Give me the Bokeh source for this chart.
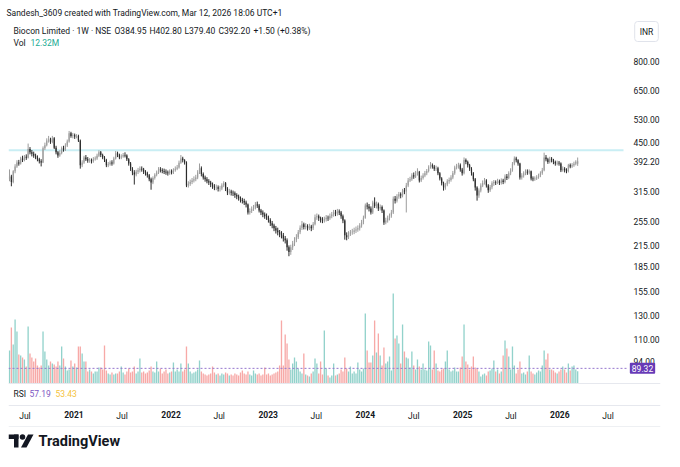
import math
import pandas as pd
from bokeh.plotting import figure
from bokeh.models import (Range1d, LinearScale, LinearAxis, FixedTicker, NumeralTickFormatter,
                          ColumnDataSource, Label, Span)
from bokeh.embed import file_html
from bokeh.resources import INLINE
from bokeh.core.properties import value

# ---------------- data ----------------
snapshot_title = "Sandesh_3609 created with TradingView.com, Mar 12, 2026 18:06 UTC+1"
symbol_name = "Biocon Limited · 1W · NSE"
ohlc_header = ["O384.95", "H402.80", "L379.40", "C392.20", "+1.50 (+0.38%)"]
vol_header = "12.32M"
rsi_values = ["57.19", "53.43"]
currency = "INR"
brand = "TradingView"

start_week = "2020-05-04"
first_open = 345.0
last_open = 384.95

closes = [
    352, 338, 365, 378, 389, 386, 400, 396, 405, 402,
    428, 418, 414, 408, 403, 398, 392, 389, 430, 440,
    455, 458, 450, 462, 432, 418, 409, 416, 430, 426,
    439, 452, 479, 470, 472, 468, 470, 455, 381, 389,
    403, 398, 394, 395, 392, 398, 400, 408, 418, 410,
    403, 396, 381, 384, 389, 386, 400, 415, 410, 403,
    406, 410, 409, 398, 386, 372, 362, 357, 364, 368,
    372, 370, 364, 360, 355, 345, 337, 348, 356, 362,
    370, 368, 366, 364, 362, 360, 365, 362, 368, 372,
    375, 388, 400, 395, 389, 330, 334, 338, 342, 345,
    349, 362, 373, 358, 349, 345, 340, 337, 332, 328,
    325, 326, 322, 323, 330, 335, 322, 314, 316, 313,
    312, 308, 305, 301, 298, 295, 292, 288, 272, 275,
    279, 282, 288, 286, 276, 272, 268, 265, 263, 258,
    252, 248, 243, 239, 236, 233, 231, 226, 223, 212,
    205, 212, 218, 224, 228, 236, 244, 250, 245, 247,
    243, 246, 243, 250, 263, 265, 261, 258, 257, 259,
    262, 261, 265, 268, 272, 270, 274, 272, 265, 257,
    231, 228, 234, 236, 237, 239, 241, 243, 248, 254,
    262, 286, 284, 280, 272, 292, 285, 289, 280, 283,
    276, 253, 257, 261, 266, 272, 300, 296, 305, 310,
    307, 318, 316, 330, 342, 345, 355, 352, 360, 364,
    342, 348, 354, 360, 366, 376, 381, 378, 372, 373,
    360, 347, 335, 325, 332, 340, 343, 349, 360, 375,
    378, 381, 370, 360, 396, 390, 381, 372, 360, 345,
    325, 307, 318, 330, 336, 342, 330, 319, 326, 335,
    338, 337, 340, 336, 342, 338, 352, 348, 360, 368,
    385, 400, 395, 386, 349, 354, 360, 364, 362, 365,
    347, 345, 347, 350, 354, 360, 368, 403, 398, 390,
    399, 395, 390, 386, 388, 386, 368, 372, 368, 365,
    381, 378, 381, 385, 390.7, 392.2,
]

highs = [
    370, 356, 368, 384, 395, 396, 405, 408, 410, 412,
    445, 434, 425, 420, 414, 409, 402, 398, 436, 448,
    462, 470, 464, 470, 466, 438, 422, 424, 436, 438,
    446, 458, 487, 484, 480, 478, 476, 474, 458, 395,
    408, 410, 404, 401, 400, 404, 406, 414, 424, 422,
    414, 407, 399, 390, 394, 395, 405, 422, 420, 414,
    412, 416, 418, 412, 401, 390, 376, 368, 369, 374,
    378, 378, 374, 368, 364, 358, 349, 352, 360, 367,
    376, 376, 373, 372, 370, 367, 370, 370, 373, 378,
    382, 394, 410, 405, 398, 392, 340, 344, 348, 352,
    356, 368, 386, 378, 362, 354, 350, 345, 341, 337,
    333, 332, 330, 329, 335, 340, 338, 326, 322, 320,
    318, 316, 312, 309, 305, 302, 300, 296, 290, 280,
    284, 287, 293, 294, 289, 279, 276, 272, 270, 266,
    261, 256, 251, 247, 244, 240, 238, 235, 230, 226,
    215, 216, 222, 228, 233, 240, 248, 256, 253, 252,
    250, 251, 249, 254, 268, 270, 268, 264, 263, 264,
    267, 266, 270, 273, 277, 277, 279, 278, 275, 268,
    259, 236, 238, 240, 242, 244, 246, 248, 252, 258,
    266, 290, 292, 289, 284, 296, 303, 294, 292, 288,
    286, 278, 262, 266, 270, 277, 305, 306, 310, 315,
    314, 322, 324, 336, 348, 351, 360, 362, 366, 373,
    366, 354, 360, 366, 371, 381, 390, 386, 382, 380,
    377, 363, 350, 339, 336, 345, 349, 355, 366, 380,
    385, 388, 386, 374, 403, 400, 394, 385, 376, 363,
    348, 328, 323, 335, 342, 348, 345, 333, 331, 340,
    343, 342, 346, 344, 347, 346, 357, 358, 365, 373,
    390, 406, 405, 398, 388, 360, 365, 370, 370, 370,
    367, 352, 352, 355, 359, 365, 374, 417, 410, 402,
    405, 404, 399, 394, 394, 393, 389, 378, 376, 373,
    385, 386, 387, 391, 395, 402.8,
]

lows = [
    340, 328, 335, 360, 374, 380, 383, 390, 392, 396,
    400, 412, 406, 402, 398, 392, 386, 378, 387, 425,
    436, 448, 444, 446, 428, 412, 402, 405, 412, 420,
    422, 434, 448, 464, 462, 460, 462, 450, 372, 376,
    385, 393, 388, 388, 386, 388, 394, 396, 404, 404,
    398, 390, 376, 376, 380, 380, 383, 397, 404, 398,
    398, 402, 403, 393, 380, 366, 355, 332, 352, 358,
    362, 364, 358, 354, 349, 340, 320, 333, 344, 352,
    358, 362, 360, 358, 356, 354, 356, 357, 358, 364,
    368, 372, 385, 389, 383, 326, 325, 329, 333, 337,
    340, 345, 358, 352, 344, 339, 335, 331, 326, 322,
    319, 319, 316, 316, 319, 326, 317, 308, 309, 307,
    306, 302, 299, 296, 292, 290, 287, 282, 268, 268,
    271, 275, 278, 281, 272, 267, 263, 260, 258, 253,
    247, 243, 238, 234, 231, 228, 226, 221, 218, 207,
    199, 201, 208, 214, 220, 225, 233, 240, 241, 241,
    239, 240, 238, 240, 248, 258, 256, 253, 252, 253,
    255, 256, 258, 261, 264, 265, 266, 267, 260, 252,
    224, 223, 225, 230, 232, 233, 235, 237, 239, 244,
    250, 260, 278, 274, 268, 269, 281, 280, 275, 276,
    271, 249, 250, 253, 257, 262, 269, 290, 292, 300,
    301, 303, 310, 272, 326, 338, 341, 346, 348, 354,
    337, 338, 344, 350, 355, 362, 372, 372, 366, 366,
    355, 342, 330, 318, 320, 328, 334, 339, 345, 356,
    370, 372, 364, 354, 357, 384, 375, 366, 354, 340,
    318, 296, 302, 314, 326, 332, 325, 313, 315, 321,
    329, 331, 333, 331, 332, 333, 335, 343, 345, 355,
    364, 381, 389, 380, 344, 344, 349, 355, 356, 357,
    342, 340, 341, 343, 346, 350, 356, 365, 392, 385,
    386, 389, 384, 380, 381, 380, 363, 364, 362, 360,
    362, 373, 374, 377, 381, 379.4,
]

volumes_m = [
    33, 56, 39, 64, 52, 29, 28, 26, 24, 17,
    57, 30, 26, 22, 25, 18, 16, 18, 52, 32,
    24, 18, 22, 20, 19, 17, 22, 18, 37, 25,
    17, 13, 14, 23, 17, 20, 16, 37, 37, 30,
    22, 22, 12, 14, 12, 10, 12, 12, 16, 16,
    14, 38, 13, 10, 9, 11, 9, 10, 10, 12,
    17, 11, 9, 12, 15, 11, 12, 17, 10, 12,
    25, 11, 12, 10, 11, 13, 17, 12, 11, 22,
    12, 15, 10, 12, 14, 10, 11, 12, 21, 12,
    14, 12, 20, 12, 14, 37, 20, 12, 10, 11,
    12, 14, 23, 12, 10, 9, 8, 9, 10, 17,
    11, 9, 10, 8, 10, 9, 11, 10, 8, 9,
    8, 10, 9, 8, 11, 13, 10, 9, 12, 9,
    8, 13, 10, 9, 10, 8, 9, 16, 9, 10,
    8, 9, 10, 11, 12, 18, 63, 18, 49, 40,
    24, 14, 20, 26, 22, 15, 12, 10, 30, 9,
    8, 7, 10, 12, 25, 20, 10, 22, 9, 53,
    15, 8, 6, 8, 20, 8, 9, 10, 14, 12,
    26, 15, 12, 17, 10, 12, 10, 21, 14, 12,
    15, 70, 33, 21, 21, 28, 63, 31, 50, 28,
    18, 36, 20, 22, 27, 13, 90, 45, 48, 40,
    20, 59, 32, 26, 25, 16, 32, 18, 14, 24,
    17, 14, 20, 14, 13, 42, 38, 14, 33, 20,
    13, 12, 14, 15, 22, 33, 14, 12, 13, 16,
    12, 12, 16, 27, 59, 22, 19, 14, 17, 27,
    16, 15, 12, 7, 9, 10, 8, 12, 13, 15,
    23, 12, 14, 10, 12, 28, 43, 35, 27, 14,
    37, 18, 10, 14, 22, 10, 11, 9, 12, 28,
    12, 10, 9, 11, 13, 12, 18, 33, 24, 30,
    14, 14, 13, 11, 10, 12, 14, 17, 14, 11,
    20, 13, 17, 18, 14, 12.32,
]

price_ticks = [800, 650, 530, 450, 392.2, 315, 255, 215, 185, 155, 130, 110, 94]
time_tick_dates = ["2020-07-01", "2021-01-01", "2021-07-01", "2022-01-01", "2022-07-01",
                   "2023-01-01", "2023-07-01", "2024-01-01", "2024-07-01", "2025-01-01",
                   "2025-07-01", "2026-01-01", "2026-07-01"]
time_tick_labels = ["Jul", "2021", "Jul", "2022", "Jul", "2023", "Jul", "2024", "Jul",
                    "2025", "Jul", "2026", "Jul"]
resistance_level = 424.0
marker_level = 89.32

# ---------------- derived ----------------
dates = pd.date_range(start_week, periods=len(closes), freq="7D")
t0 = dates[0]
xs = [int((d - t0).days) for d in dates]
opens = [first_open] + closes[:-1]
opens[-1] = last_open
is_up = [c >= o for o, c in zip(opens, closes)]

UP_C, DN_C = "#9c9c9c", "#2b2b2b"
VUP_C, VDN_C = "#92d2cb", "#f7a9a7"
src = ColumnDataSource(dict(
    x=xs, o=opens, c=closes, h=highs, l=lows,
    top=[max(o, c) for o, c in zip(opens, closes)],
    bot=[min(o, c) for o, c in zip(opens, closes)],
    col=[UP_C if u else DN_C for u in is_up],
    vol=volumes_m,
    vcol=[VUP_C if u else VDN_C for u in is_up],
))

FONT = "Roboto"
TXT = "#131722"
SEP = "#e6e8ee"
W, H = 664, 451
FR_L, FR_R, FR_T, FR_B = 8, 660, 20, 451   # frame edges in pixels
PANE_R = 628                               # where the price scale column starts
PANE_B = 383                               # bottom of the price/volume pane
TIME_T = 405                               # top of the time scale row
DAYS_PER_PX = 3.7577
PX_PER_LN = 139.98
x_start = -1 * DAYS_PER_PX
x_end = x_start + (FR_R - FR_L) * DAYS_PER_PX
y_end = 1072.0
y_start = y_end * math.exp(-(FR_B - FR_T) / PX_PER_LN)


def rx(px):
    return x_start + (px - FR_L) * DAYS_PER_PX


def ry(py):
    return y_end * math.exp(-(py - FR_T) / PX_PER_LN)


p = figure(width=W, height=H, output_backend="svg", toolbar_location=None,
           x_axis_type=None, y_axis_type="log", y_axis_location="right",
           x_range=Range1d(x_start, x_end), y_range=Range1d(y_start, y_end),
           min_border_left=FR_L, min_border_right=W - FR_R, min_border_top=FR_T,
           min_border_bottom=0,
           title=snapshot_title, background_fill_color="white", border_fill_color="white",
           outline_line_color=None)
p.title.text_font = FONT
p.title.text_font_size = "8.5px"
p.title.text_font_style = "normal"
p.title.text_color = TXT
p.title.standoff = 5
p.title.offset = -2
p.xgrid.visible = False
p.ygrid.visible = False

# price axis (labels pulled back into the scale column)
ya = p.yaxis[0]
ya.ticker = FixedTicker(ticks=price_ticks)
ya.formatter = NumeralTickFormatter(format="0.00")
ya.axis_line_color = None
ya.major_tick_line_color = None
ya.minor_tick_line_color = None
ya.major_tick_out = 0
ya.major_tick_in = 0
ya.minor_tick_out = 0
ya.major_label_standoff = 633 - FR_R
ya.major_label_text_font = FONT
ya.major_label_text_font_size = "8.5px"
ya.major_label_text_color = TXT

# time axes: months (normal) and years (bold), labels pulled up into the time row
tick_x = [int((pd.Timestamp(d) - t0).days) for d in time_tick_dates]
m_ticks = [t for t, lab in zip(tick_x, time_tick_labels) if not lab.isdigit()]
y_ticks = [t for t, lab in zip(tick_x, time_tick_labels) if lab.isdigit()]
ax_m = LinearAxis(ticker=FixedTicker(ticks=m_ticks),
                  major_label_overrides={t: lab for t, lab in zip(tick_x, time_tick_labels) if not lab.isdigit()})
ax_y = LinearAxis(ticker=FixedTicker(ticks=y_ticks),
                  major_label_overrides={t: lab for t, lab in zip(tick_x, time_tick_labels) if lab.isdigit()})
for ax in (ax_m, ax_y):
    ax.axis_line_color = None
    ax.major_tick_line_color = None
    ax.minor_tick_line_color = None
    ax.major_tick_out = 0
    ax.major_tick_in = 0
    ax.minor_tick_out = 0
    ax.major_label_text_font = FONT
    ax.major_label_text_font_size = "8.5px"
    ax.major_label_text_color = TXT
    ax.major_label_standoff = 410 - FR_B
ax_y.major_label_text_font_style = "bold"
p.add_layout(ax_m, "below")
p.add_layout(ax_y, "below")

# pane separators
p.add_layout(Span(location=ry(PANE_B), dimension="width", line_color=SEP, line_width=1))
p.add_layout(Span(location=ry(TIME_T), dimension="width", line_color=SEP, line_width=1))
p.add_layout(Span(location=ry(426), dimension="width", line_color="#eef0f3", line_width=1))

# volume overlay (own linear scale, zero at the pane bottom)
p.extra_y_ranges = {"vol": Range1d(-(FR_B - PANE_B), PANE_B - FR_T)}
p.extra_y_scales = {"vol": LinearScale()}
p.vbar(x="x", width=5, top="vol", bottom=0, fill_color="vcol", line_color=None,
       source=src, y_range_name="vol")

# horizontal drawings
p.segment(x0=[x_start], y0=[resistance_level], x1=[rx(623)], y1=[resistance_level],
          line_color="#c9eef4", line_width=2)
p.segment(x0=[x_start], y0=[marker_level], x1=[rx(PANE_R)], y1=[marker_level],
          line_color="#9575cd", line_width=1, line_dash="2 2")

# candles
p.segment(x0="x", y0="l", x1="x", y1="h", line_color="col", line_width=1, source=src)
p.vbar(x="x", width=4.5, top="top", bottom="bot", fill_color="col", line_color=None,
       source=src)

# legend texts inside the pane
def txt(px, py, s, color=TXT, size="8.5px", style="normal"):
    p.text(x=[rx(px)], y=[ry(py)], text=[s], text_font=value(FONT), text_font_size=size,
           text_font_style=style, text_color=color, text_baseline="middle", text_align="left")

txt(13, 30, symbol_name)
for px, s in zip([114, 149, 184, 218, 253], ohlc_header):
    txt(px, 30, s)
txt(13, 42, "Vol")
txt(30, 42, vol_header, color="#22ab94")
txt(13, 393, "RSI")
txt(29, 393, rsi_values[0], color="#7e57c2")
txt(55, 393, rsi_values[1], color="#f5c33b")

# brand mark + name at the bottom
BY = 434  # top of the brand row
p.quad(left=[rx(8), rx(13.5)], right=[rx(18), rx(18)], top=[ry(BY), ry(BY)],
       bottom=[ry(BY + 4.5), ry(BY + 13)], fill_color=TXT, line_color=None)
p.scatter(x=[rx(22)], y=[ry(BY + 2.5)], size=5.5, marker="circle", fill_color=TXT, line_color=None)
p.patch(x=[rx(20.5), rx(27.5), rx(33), rx(26)], y=[ry(BY + 13), ry(BY), ry(BY), ry(BY + 13)],
        fill_color=TXT, line_color=None)
txt(38, BY + 6.5, brand, size="14.5px", style="bold")

# price-scale boxes
p.add_layout(Label(x=rx(646), y=ry(31), text=currency, text_font=FONT, text_font_size="8.5px",
                   text_color=TXT, text_align="center", text_baseline="middle",
                   background_fill_color="white", border_line_color="#e0e3eb",
                   padding=5, border_radius=3))
p.add_layout(Label(x=rx(642), y=marker_level, text="89.32", text_font=FONT,
                   text_font_size="8.5px", text_color="white", text_align="center",
                   text_baseline="middle", background_fill_color="#673ab7",
                   padding=2, border_radius=1))

open("out.html", "w").write(file_html(p, INLINE))
